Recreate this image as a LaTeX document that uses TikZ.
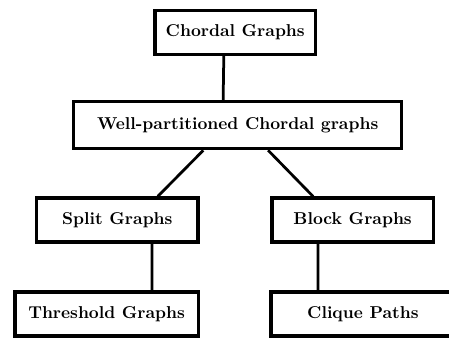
\documentclass[tikz,border=0pt]{standalone}
\usetikzlibrary{calc}

\begin{document}
\begin{tikzpicture}
	\tikzstyle{graphclass}=[rectangle, draw, black, line width=1.9pt,
	font=\bfseries, minimum height=0.9cm, inner sep=2pt]
	\tikzstyle{edge}=[line width=1.6pt]

	\useasboundingbox (0,0) rectangle (9.18,-6.95);

	\node[graphclass, minimum width=3.28cm] at (4.81,-0.66) (chordal) {Chordal Graphs};
	\node[graphclass, minimum width=6.70cm, minimum height=0.96cm] at (4.86,-2.56) (wpc) {Well-partitioned Chordal graphs};
	\node[graphclass, minimum width=3.30cm] at (2.40,-4.50) (split) {Split Graphs};
	\node[graphclass, minimum width=3.30cm] at (7.21,-4.50) (block) {Block Graphs};
	\node[graphclass, minimum width=3.75cm] at (2.18,-6.42) (threshold) {Threshold Graphs};
	\node[graphclass, minimum width=3.76cm] at (7.42,-6.42) (clique) {Clique Paths};

	\draw[edge] ($(chordal.south west)!0.43!(chordal.south east)$) -- ($(wpc.north west)!0.456!(wpc.north east)$);

	\draw[edge] ($(wpc.south west)!0.396!(wpc.south east)$) -- ($(split.north west)!0.745!(split.north east)$);
	\draw[edge] ($(wpc.south west)!0.592!(wpc.south east)$) -- ($(block.north west)!0.26!(block.north east)$);

	\draw[edge] ($(split.south west)!0.71!(split.south east)$) -- ($(threshold.north west)!0.7435!(threshold.north east)$);
	\draw[edge] ($(block.south west)!0.29!(block.south east)$) -- ($(clique.north west)!0.26!(clique.north east)$);

\end{tikzpicture}
\end{document}
